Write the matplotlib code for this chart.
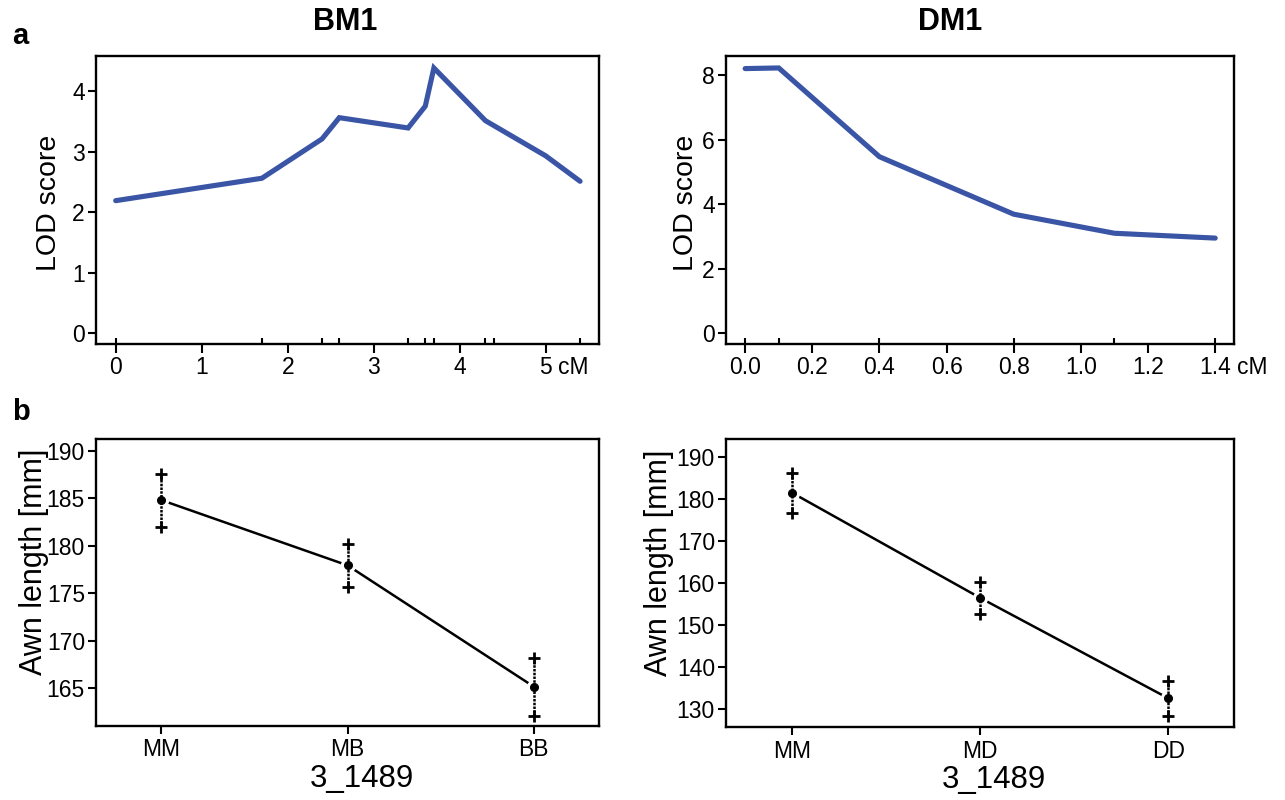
"""QTL LOD profiles (BM1, DM1) and allele effect plots for marker 3_1489"""

import matplotlib
matplotlib.use("Agg")
import matplotlib.pyplot as plt

plt.rcParams['font.family'] = ['Liberation Sans', 'DejaVu Sans']

# ---- data ----
bm1_pos = [0.0, 1.7, 2.4, 2.6, 3.4, 3.6, 3.7, 4.3, 5.0, 5.4]
bm1_lod = [2.19, 2.56, 3.21, 3.56, 3.39, 3.75, 4.38, 3.51, 2.93, 2.51]
bm1_markers = [0.0, 1.7, 2.4, 2.6, 3.4, 3.6, 3.7, 4.3, 4.4, 5.4]

dm1_pos = [0.0, 0.1, 0.4, 0.8, 1.1, 1.4]
dm1_lod = [8.20, 8.22, 5.47, 3.69, 3.10, 2.95]
dm1_markers = [0.0, 0.1, 0.4, 0.8, 1.1, 1.4]

bm1_geno = ["MM", "MB", "BB"]
bm1_mean = [184.83, 177.94, 165.14]
bm1_upper = [187.54, 180.19, 168.16]
bm1_lower = [182.02, 175.62, 162.07]

dm1_geno = ["MM", "MD", "DD"]
dm1_mean = [181.42, 156.38, 132.46]
dm1_upper = [186.03, 160.04, 136.60]
dm1_lower = [176.49, 152.49, 128.33]

marker_name = "3_1489"

W, H = 1285, 800
LOD_COLOR = "#3a55a5"
TICK_FS = 16.5


def px_axes(fig, left, top, right, bottom):
    return fig.add_axes([left / W, 1 - bottom / H, (right - left) / W, (bottom - top) / H])


def style_box(ax):
    for sp in ax.spines.values():
        sp.set_linewidth(1.7)
    ax.tick_params(axis="y", direction="out", length=6, width=1.5,
                   labelsize=TICK_FS, pad=2)


def plot_lod(ax, pos, lod, markers, xticks, xlabels, xlim, ylim, yticks,
             ylab_x, cm_offset):
    ax.plot(pos, lod, color=LOD_COLOR, lw=3.7, solid_capstyle="round",
            solid_joinstyle="miter")
    ax.set_xlim(*xlim)
    ax.set_ylim(*ylim)
    ax.set_yticks(yticks)
    ax.set_xticks(xticks)
    ax.set_xticklabels(xlabels)
    ax.set_xticks(markers, minor=True)
    ax.xaxis.remove_overlapping_locs = False
    style_box(ax)
    ax.tick_params(axis="x", which="major", direction="out", length=6.5,
                   width=1.5, labelsize=TICK_FS, pad=2)
    ax.tick_params(axis="x", which="minor", direction="in", length=4.5, width=1.5)
    # unit after last tick label
    ax.annotate("cM", xy=(xticks[-1], 0), xycoords=("data", "axes fraction"),
                xytext=(cm_offset, -8.5), textcoords="offset points",
                ha="left", va="top", fontsize=TICK_FS)
    ax.set_ylabel("LOD score", fontsize=20.5)
    ax.yaxis.set_label_coords(ylab_x, 0.49)


def plot_effect(ax, geno, mean, upper, lower, ylim, yticks, ylab_x):
    x = list(range(1, len(geno) + 1))
    ax.plot(x, mean, color="black", lw=1.8, zorder=2)
    ax.plot(x, mean, "o", color="white", ms=10, zorder=3)
    for xi, lo, hi in zip(x, lower, upper):
        ax.plot([xi, xi], [lo, hi], ls=(0, (1, 0.5)), color="black", lw=1.8, zorder=4)
    ax.plot(x, upper, "+", color="black", ms=8, mew=2, zorder=5)
    ax.plot(x, lower, "+", color="black", ms=8, mew=2, zorder=5)
    ax.plot(x, mean, "o", color="black", ms=5.5, zorder=6)
    ax.set_xlim(0.65, 3.35)
    ax.set_ylim(*ylim)
    ax.set_yticks(yticks)
    ax.set_xticks(x)
    ax.set_xticklabels(geno)
    style_box(ax)
    ax.tick_params(axis="x", direction="out", length=6, width=1.5,
                   labelsize=TICK_FS, pad=3)
    ax.set_ylabel("Awn length [mm]", fontsize=22)
    ax.yaxis.set_label_coords(ylab_x, 0.571)
    ax.set_xlabel(marker_name, fontsize=22.5)
    ax.xaxis.set_label_coords(0.528, -0.132)


fig = plt.figure(figsize=(W / 100, H / 100), dpi=100)

ax1 = px_axes(fig, 96, 56, 599, 344)
plot_lod(ax1, bm1_pos, bm1_lod, bm1_markers,
         [0, 1, 2, 3, 4, 5], ["0", "1", "2", "3", "4", "5"],
         (-0.229, 5.62), (-0.176, 4.578), [0, 1, 2, 3, 4], -34 / 503, 8.8)

ax2 = px_axes(fig, 726, 56, 1234, 344)
plot_lod(ax2, dm1_pos, dm1_lod, dm1_markers,
         [0, 0.2, 0.4, 0.6, 0.8, 1.0, 1.2, 1.4],
         ["0.0", "0.2", "0.4", "0.6", "0.8", "1.0", "1.2", "1.4"],
         (-0.057, 1.456), (-0.33, 8.59), [0, 2, 4, 6, 8], -27 / 508, 15.5)

ax3 = px_axes(fig, 96, 439, 599, 726)
plot_effect(ax3, bm1_geno, bm1_mean, bm1_upper, bm1_lower,
            (160.99, 191.27), [165, 170, 175, 180, 185, 190], -47 / 503)

ax4 = px_axes(fig, 726, 439, 1234, 727)
plot_effect(ax4, dm1_geno, dm1_mean, dm1_upper, dm1_lower,
            (125.6, 194.2), [130, 140, 150, 160, 170, 180, 190], -52 / 508)

fig.text(345 / W, 1 - 22 / H, "BM1", fontsize=22, fontweight="bold",
         ha="center", va="center")
fig.text(950 / W, 1 - 22 / H, "DM1", fontsize=22, fontweight="bold",
         ha="center", va="center")
fig.text(12 / W, 1 - 36 / H, "a", fontsize=21, fontweight="bold",
         ha="left", va="center")
fig.text(12 / W, 1 - 412 / H, "b", fontsize=21, fontweight="bold",
         ha="left", va="center")

fig.savefig("out.png", dpi=100)
